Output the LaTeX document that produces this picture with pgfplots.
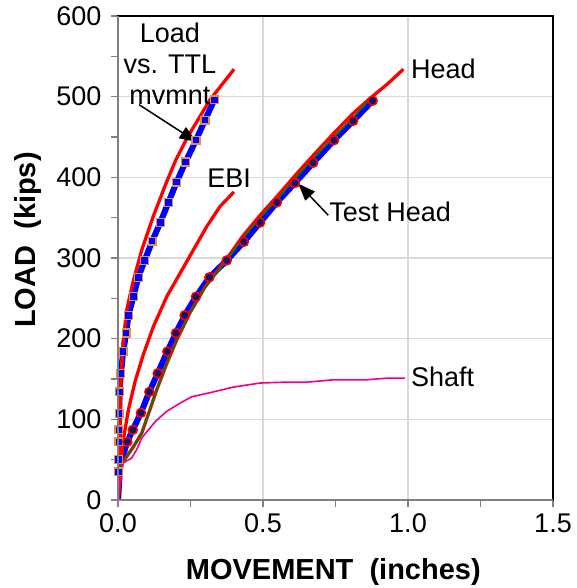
\documentclass[border=0pt]{standalone}
\usepackage{fontspec}
\setmainfont{Liberation Sans}
\usepackage{pgfplots}
\pgfplotsset{compat=1.18}
\usetikzlibrary{arrows.meta}

\definecolor{gridgray}{RGB}{217,217,217}
\definecolor{axisgray}{RGB}{128,128,128}
\definecolor{sqedge}{RGB}{230,145,56}
\definecolor{navy}{RGB}{20,20,100}
\definecolor{dgreen}{RGB}{0,128,0}

\begin{document}
\begin{tikzpicture}
\useasboundingbox (-118pt,-88pt) rectangle (458pt,500pt);
\begin{axis}[
    width=435pt, height=484pt, scale only axis,
    at={(0,0)}, anchor=south west,
    xmin=0, xmax=1.5, ymin=0, ymax=600,
    xtick={0,0.5,1,1.5}, xticklabels={0.0,0.5,1.0,1.5},
    minor xtick={0.25,0.75,1.25},
    ytick={0,100,200,300,400,500,600}, yticklabels={0,100,200,300,400,500,600},
    minor ytick={50,150,250,350,450,550},
    tick align=outside, major tick length=7pt, minor tick length=7pt,
    xtick pos=bottom, ytick pos=left,
    tick style={axisgray, line width=1.3pt},
    grid=major, major grid style={gridgray, line width=1.5pt},
    axis line style={black, line width=1.3pt},
    tick label style={font=\fontsize{27}{32}\selectfont},
    xticklabel style={yshift=-3pt},
    yticklabel style={xshift=-6pt},
    xlabel={MOVEMENT\ \ (inches)}, ylabel={LOAD\ \ (kips)},
    every axis x label/.style={at={(axis description cs:0.495,-0.149)}, anchor=center,
      font=\bfseries\fontsize{29}{34}\selectfont},
    every axis y label/.style={at={(axis description cs:-0.207,0.537)}, rotate=90, anchor=center,
      font=\bfseries\fontsize{29}{34}\selectfont},
    after end axis/.code={
      \draw[axisgray, line width=1.3pt] (rel axis cs:0,1) -- (rel axis cs:0,0) -- (rel axis cs:1,0);
    },
]
% load vs total movement (blue with squares)
\addplot[blue, line width=6pt, no marks] coordinates {
(0,0) (0.002,35) (0.002,50) (0.003,72) (0.003,87) (0.004,107) (0.005,134)
(0.010,157) (0.018,184) (0.028,207) (0.036,229) (0.053,252) (0.070,276)
(0.092,297) (0.118,321) (0.146,344) (0.174,369) (0.202,394) (0.233,419)
(0.269,446) (0.300,471) (0.332,496)};
\addplot[only marks, mark=square*, mark size=3.9pt, mark options={fill=blue, draw=sqedge, line width=1.3pt}] coordinates {
(0.002,35) (0.002,50) (0.003,72) (0.003,87) (0.004,107) (0.005,134)
(0.010,157) (0.018,184) (0.028,207) (0.036,229) (0.053,252) (0.070,276)
(0.092,297) (0.118,321) (0.146,344) (0.174,369) (0.202,394) (0.233,419)
(0.269,446) (0.300,471) (0.332,496)};
% test head (blue with circles)
\addplot[blue, line width=6pt, no marks] coordinates {
(0,0) (0.008,45) (0.032,72) (0.051,87) (0.079,108) (0.108,134) (0.137,157)
(0.170,184) (0.200,207) (0.230,229) (0.269,252) (0.315,276) (0.375,297)
(0.434,320) (0.490,344) (0.548,369) (0.610,393) (0.673,418) (0.745,446)
(0.811,470) (0.878,495)};
\addplot[only marks, mark=*, mark size=4.5pt, mark options={fill=navy, draw=red, line width=1.5pt}] coordinates {
(0.032,72) (0.051,87) (0.079,108) (0.108,134) (0.137,157)
(0.170,184) (0.200,207) (0.230,229) (0.269,252) (0.315,276) (0.375,297)
(0.434,320) (0.490,344) (0.548,369) (0.610,393) (0.673,418) (0.745,446)
(0.811,470) (0.878,495)};
% red curves
\addplot[red, line width=3.3pt, no marks] coordinates {
(0,0) (0.004,50) (0.007,83) (0.010,145) (0.016,190) (0.022,210) (0.030,235)
(0.042,255) (0.053,272) (0.082,310) (0.122,352) (0.165,392) (0.200,422)
(0.240,450) (0.317,496) (0.400,534)};
\addplot[red, line width=3.3pt, no marks] coordinates {
(0,0) (0.009,41) (0.018,74) (0.036,112) (0.059,147) (0.087,180) (0.122,215)
(0.168,252) (0.214,281) (0.260,310) (0.306,339) (0.352,364) (0.400,382)};
\addplot[red, line width=3.3pt, no marks] coordinates {
(0,0) (0.013,45) (0.053,66) (0.082,83) (0.110,112) (0.133,136) (0.168,169)
(0.202,198) (0.248,232) (0.300,264) (0.375,299) (0.430,327) (0.490,353)
(0.550,377) (0.610,402) (0.670,426) (0.745,455) (0.810,479) (0.866,497)
(0.930,516) (0.984,534)};
\addplot[dgreen, line width=1.6pt, no marks] coordinates {
(0.005,38) (0.013,45) (0.053,66) (0.082,83) (0.110,112) (0.133,136) (0.168,169)
(0.202,198) (0.248,231) (0.300,263) (0.375,297) (0.430,324) (0.490,350)
(0.550,373) (0.610,398) (0.670,422) (0.745,450) (0.810,474) (0.870,497)};
% shaft
\addplot[magenta, line width=1.6pt, no marks] coordinates {
(0,0) (0.005,21) (0.018,46) (0.047,52) (0.064,62) (0.082,77) (0.105,87)
(0.128,97) (0.168,110) (0.214,120) (0.254,128) (0.317,133) (0.398,140)
(0.490,145) (0.570,146) (0.650,146) (0.742,149) (0.800,149) (0.857,149)
(0.926,151) (0.990,151)};
% annotations
\node[align=center, font=\fontsize{27}{31}\selectfont, inner sep=0pt] at (axis cs:0.179,541) {Load\\vs. TTL\\mvmnt};
\node[font=\fontsize{27}{31}\selectfont, inner sep=0pt] at (axis cs:0.383,399) {EBI};
\node[anchor=west, font=\fontsize{27}{31}\selectfont, inner sep=0pt] at (axis cs:0.728,357) {Test Head};
\node[anchor=west, font=\fontsize{27}{31}\selectfont, inner sep=0pt] at (axis cs:1.010,534) {Head};
\node[anchor=west, font=\fontsize{27}{31}\selectfont, inner sep=0pt] at (axis cs:1.010,153) {Shaft};
\draw[-{Triangle[length=17pt,width=13pt]}, line width=1.5pt] (axis cs:0.073,490) -- (axis cs:0.271,444);
\draw[-{Triangle[length=17pt,width=13pt]}, line width=1.5pt] (axis cs:0.725,353) -- (axis cs:0.622,392);
\end{axis}
\end{tikzpicture}
\end{document}
